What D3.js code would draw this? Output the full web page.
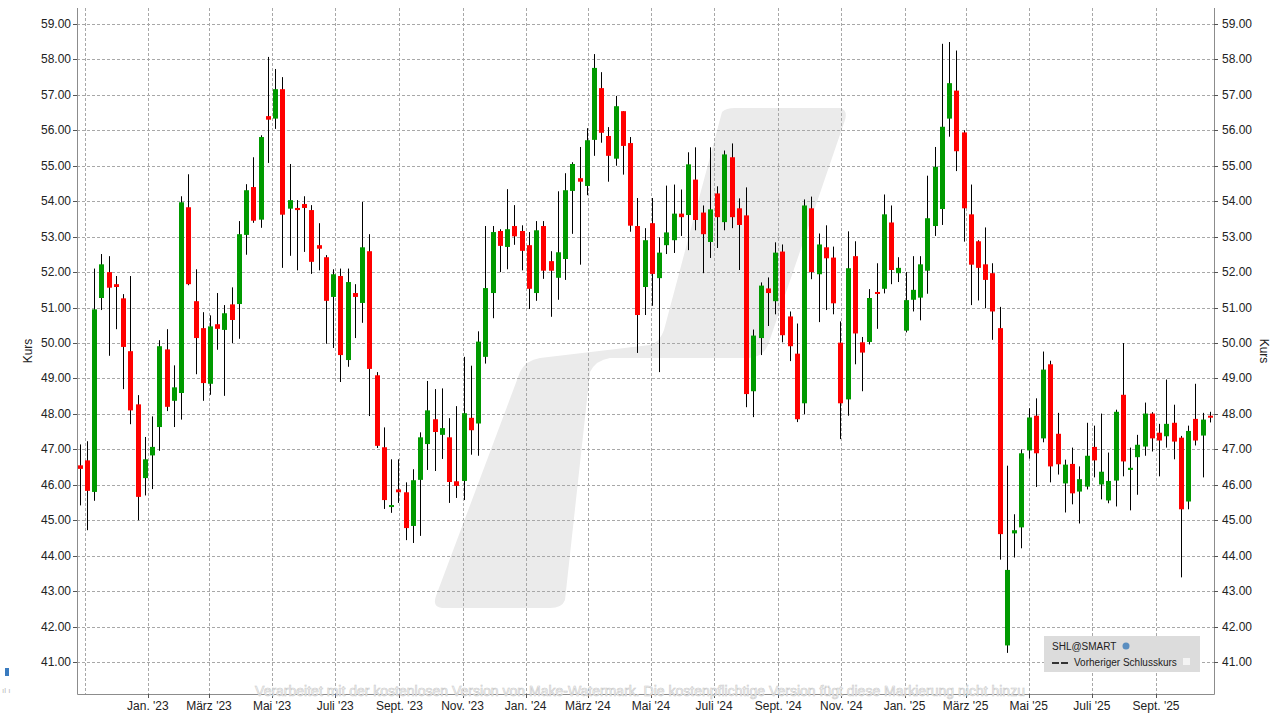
<!DOCTYPE html>
<html>
<head>
<meta charset="utf-8">
<script src="https://cdn.jsdelivr.net/npm/d3@7"></script>
<style>
  body { margin: 0; background: #fff; }
  text { font-family: "Liberation Sans", Arial, sans-serif; }
</style>
</head>
<body>
<svg id="chart" width="1281" height="719"></svg>
<script>
// weekly candles, first week
var firstWeek = "2022-10-27";

var opens = [46.55,46.69,45.80,51.27,52.00,51.66,51.26,49.77,48.27,46.19,46.83,47.63,49.82,48.37,48.59,53.83,51.18,50.42,48.85,50.53,
  50.37,51.09,51.10,53.05,54.40,53.48,56.40,56.33,57.16,53.79,53.81,53.92,53.75,52.76,52.42,51.30,51.89,49.52,51.41,51.13,
  52.59,49.09,47.06,45.38,45.87,45.79,44.84,46.14,47.15,47.85,47.41,47.34,46.10,46.11,47.89,47.73,49.61,51.41,53.16,52.71,
  53.30,53.16,52.76,51.41,53.30,52.31,51.84,52.37,54.29,54.65,54.43,55.73,57.19,55.84,55.20,56.54,55.64,53.30,51.58,53.38,
  51.83,52.76,52.90,53.65,53.61,54.61,53.68,52.85,54.22,53.41,55.24,53.80,53.60,48.64,50.14,51.54,51.18,52.58,50.75,49.70,
  48.30,53.80,51.94,52.70,52.41,50.01,48.41,52.45,50.02,50.03,51.44,51.53,53.40,51.97,50.35,51.22,51.28,52.04,53.30,53.78,
  56.33,57.12,55.94,53.63,52.87,52.22,51.97,50.42,41.47,44.63,44.80,46.97,47.95,47.31,49.40,47.44,46.04,46.59,45.81,45.95,
  47.07,46.01,45.56,46.12,48.54,46.42,46.78,47.08,48.01,47.47,47.37,47.75,47.33,45.53,47.86,47.39,47.95];
var highs = [47.14,47.23,52.10,52.51,52.45,51.89,51.38,51.89,48.53,47.35,47.93,50.08,50.39,49.37,54.14,54.76,52.08,50.87,50.78,51.41,
  51.07,51.57,53.44,54.48,55.24,55.86,58.07,57.73,57.50,55.05,54.03,54.14,53.89,53.38,52.48,52.08,52.10,52.10,51.66,53.98,
  53.07,49.18,47.62,46.72,46.72,46.07,46.44,47.48,48.93,48.70,48.72,47.88,48.22,49.61,49.36,50.33,53.30,53.30,53.21,54.34,
  53.89,53.32,53.13,53.44,53.44,52.59,54.28,54.79,55.10,55.53,56.06,58.15,57.64,56.09,56.97,56.54,55.81,54.09,53.24,54.09,
  52.98,54.44,54.47,54.33,55.38,55.52,53.88,55.52,54.42,55.43,55.63,54.08,54.39,50.38,51.71,51.85,52.84,52.78,50.89,50.55,
  54.05,54.13,53.09,53.32,52.72,50.61,53.15,52.87,50.17,51.52,52.25,54.19,53.88,52.42,52.00,52.45,52.45,54.72,55.53,58.44,
  58.49,58.25,56.00,54.47,52.90,53.26,52.25,51.02,46.54,45.17,47.00,48.16,48.44,49.76,49.50,48.03,46.71,47.05,46.52,47.75,
  47.67,48.01,46.91,48.12,50.00,47.05,47.41,48.32,48.05,47.72,48.97,48.26,47.38,47.67,48.85,48.03,48.06];
var lows = [45.42,44.72,45.55,50.93,49.64,50.39,48.70,47.71,45.00,45.70,45.88,46.96,48.08,47.63,47.84,51.63,49.12,48.37,48.54,49.81,
  48.51,50.00,50.12,52.49,53.39,53.25,55.08,56.04,52.12,52.46,52.05,52.57,51.95,52.05,49.98,49.86,48.90,49.33,50.14,50.57,
  47.94,47.04,45.32,45.21,45.49,44.44,44.36,44.56,46.42,46.39,46.73,45.49,45.63,45.57,46.85,46.82,49.42,50.70,52.00,52.08,
  52.77,52.05,50.96,51.19,51.81,50.74,51.22,51.78,53.08,52.21,54.17,55.28,55.65,54.55,55.00,54.75,53.14,49.72,50.79,51.05,
  49.18,52.51,52.54,53.02,52.62,53.18,51.97,52.40,52.68,53.18,53.24,52.06,48.19,47.91,49.66,50.48,50.81,50.02,49.49,47.77,
  47.99,51.80,50.59,50.93,50.81,47.29,47.95,49.40,48.64,49.96,50.40,51.40,51.66,51.72,50.30,50.89,50.64,51.39,53.02,53.33,
  55.82,54.85,52.86,51.07,51.20,50.98,50.09,43.89,41.26,43.95,44.21,46.74,45.94,47.20,46.07,46.29,45.22,45.45,44.91,45.87,
  46.21,45.59,45.48,45.39,46.24,45.28,45.72,46.82,46.94,46.24,47.05,46.72,43.39,45.31,47.11,46.21,47.76];
var closes = [46.45,45.83,50.95,52.22,51.56,51.58,49.89,48.10,45.66,46.72,47.07,49.91,48.20,48.75,53.97,51.66,50.14,48.87,50.47,50.40,
  50.84,50.65,53.07,54.31,53.45,55.81,56.30,57.16,53.62,54.03,53.75,53.81,52.29,52.66,51.19,51.94,49.66,51.72,51.30,52.70,
  49.27,47.10,45.57,45.43,45.79,44.78,46.13,47.34,48.10,47.49,47.60,46.08,45.97,48.02,47.54,50.04,51.55,53.13,52.74,53.21,
  53.01,52.60,51.53,53.18,52.04,52.04,52.56,54.31,55.05,54.55,55.72,57.76,55.93,55.28,56.68,55.56,53.31,50.79,52.90,51.95,
  52.55,53.12,53.65,53.55,55.04,53.47,53.07,53.77,53.55,55.32,53.55,53.33,48.56,50.21,51.62,51.41,52.55,50.22,49.91,47.85,
  53.88,52.00,52.78,52.39,51.12,48.30,52.11,50.27,49.73,51.27,51.39,53.63,52.06,52.12,51.21,51.50,52.22,53.52,54.97,56.10,
  57.33,55.41,53.80,52.21,52.12,51.78,50.89,44.61,43.60,44.72,46.89,47.90,46.89,49.25,46.52,46.58,46.57,45.76,46.16,46.82,
  46.69,46.37,46.11,48.06,46.66,46.48,47.13,48.01,47.31,47.25,47.72,47.22,45.31,47.52,47.25,47.84,47.90];

var yTicks = [41,42,43,44,45,46,47,48,49,50,51,52,53,54,55,56,57,58,59];
var monthNames = ["Jan.","Feb.","März","Apr.","Mai","Juni","Juli","Aug.","Sept.","Okt.","Nov.","Dez."];

var svg = d3.select("#chart");
var plotLeft = 77, plotRight = 1214, plotTop = 8, plotBottom = 694;

var start = d3.timeParse("%Y-%m-%d")(firstWeek);
var data = opens.map(function(o, i) {
  return { date: d3.timeWeek.offset(start, i), o: o, h: highs[i], l: lows[i], c: closes[i] };
});

var x = d3.scaleTime()
  .domain([new Date(2022, 9, 24, 12), new Date(2025, 9, 27)])
  .range([plotLeft, plotRight]);
var y = d3.scaleLinear().domain([40.1, 59.45]).range([plotBottom, plotTop]);

// watermark shape
svg.append("path")
  .attr("d", "M722,112 Q726,108 735,108 L840,108 Q848,110 845,120 L768,345 Q762,358 748,358 L610,358 Q596,360 590,372 L565,600 Q562,608 550,608 L442,608 Q432,607 436,596 L520,372 Q526,360 540,358 L650,345 Q660,342 664,330 Z")
  .attr("fill", "#ebebeb");

var grid = svg.append("g").attr("stroke", "#a8a8a8").attr("stroke-dasharray", "3,2").attr("stroke-width", 1);
yTicks.forEach(function(t) {
  grid.append("line").attr("x1", plotLeft).attr("x2", plotRight)
    .attr("y1", Math.round(y(t)) + 0.5).attr("y2", Math.round(y(t)) + 0.5);
});
var months = d3.timeMonth.range(new Date(2022, 10, 1), new Date(2025, 10, 1), 2);
months.forEach(function(m) {
  grid.append("line").attr("y1", plotTop).attr("y2", plotBottom)
    .attr("x1", Math.round(x(m)) + 0.5).attr("x2", Math.round(x(m)) + 0.5);
});

// frame
svg.append("path")
  .attr("d", "M" + (plotLeft + 0.5) + "," + plotTop + " V" + (plotBottom + 0.5) + " H" + (plotRight + 0.5) + " V" + plotTop)
  .attr("fill", "none").attr("stroke", "#8c8c8c");

// y labels both sides
yTicks.forEach(function(t) {
  var yy = y(t);
  svg.append("line").attr("x1", plotLeft - 4).attr("x2", plotLeft).attr("y1", Math.round(yy) + 0.5).attr("y2", Math.round(yy) + 0.5).attr("stroke", "#555");
  svg.append("line").attr("x1", plotRight).attr("x2", plotRight + 4).attr("y1", Math.round(yy) + 0.5).attr("y2", Math.round(yy) + 0.5).attr("stroke", "#555");
  svg.append("text").attr("x", plotLeft - 6).attr("y", yy + 4).attr("text-anchor", "end")
    .attr("font-size", 12).attr("fill", "#222").text(t.toFixed(2));
  svg.append("text").attr("x", plotRight + 8).attr("y", yy + 4)
    .attr("font-size", 12).attr("fill", "#222").text(t.toFixed(2));
});
svg.append("text").attr("transform", "translate(32,351) rotate(-90)").attr("text-anchor", "middle")
  .attr("font-size", 12).attr("fill", "#222").text("Kurs");
svg.append("text").attr("transform", "translate(1260,351) rotate(90)").attr("text-anchor", "middle")
  .attr("font-size", 12).attr("fill", "#222").text("Kurs");

// x labels
months.forEach(function(m, i) {
  if (i === 0) return;
  svg.append("line").attr("x1", Math.round(x(m)) + 0.5).attr("x2", Math.round(x(m)) + 0.5)
    .attr("y1", plotBottom).attr("y2", plotBottom + 4).attr("stroke", "#555");
  svg.append("text").attr("x", x(m)).attr("y", 710).attr("text-anchor", "middle")
    .attr("font-size", 12).attr("fill", "#222")
    .text(monthNames[m.getMonth()] + " '" + String(m.getFullYear()).slice(2));
});

// candles
var bw = 5;
var candles = svg.append("g").selectAll("g").data(data).enter().append("g");
candles.append("line")
  .attr("x1", function(d) { return Math.round(x(d.date)) + 0.5; })
  .attr("x2", function(d) { return Math.round(x(d.date)) + 0.5; })
  .attr("y1", function(d) { return y(d.h); })
  .attr("y2", function(d) { return y(d.l); })
  .attr("stroke", "#000").attr("stroke-width", 1);
candles.append("rect")
  .attr("x", function(d) { return Math.round(x(d.date)) - 2; })
  .attr("width", bw)
  .attr("y", function(d) { return y(Math.max(d.o, d.c)); })
  .attr("height", function(d) { return Math.max(2, Math.abs(y(d.o) - y(d.c))); })
  .attr("fill", function(d) { return d.c >= d.o ? "#009a00" : "#ff0000"; });

// legend
var lg = svg.append("g");
lg.append("rect").attr("x", 1044).attr("y", 636).attr("width", 156).attr("height", 36).attr("fill", "#dcdcdc");
lg.append("text").attr("x", 1052).attr("y", 650).attr("font-size", 10).attr("fill", "#222").text("SHL@SMART");
lg.append("circle").attr("cx", 1126).attr("cy", 646).attr("r", 3.5).attr("fill", "#5a8ec0");
lg.append("line").attr("x1", 1052).attr("x2", 1070).attr("y1", 663).attr("y2", 663)
  .attr("stroke", "#333").attr("stroke-width", 2).attr("stroke-dasharray", "7,2");
lg.append("text").attr("x", 1074).attr("y", 666).attr("font-size", 10).attr("fill", "#222").text("Vorheriger Schlusskurs");
lg.append("rect").attr("x", 1183).attr("y", 658).attr("width", 7).attr("height", 7).attr("fill", "#f4f4f4");

// tiny icon
svg.append("rect").attr("x", 5).attr("y", 668).attr("width", 4).attr("height", 8).attr("fill", "#3a7bbf");
svg.append("text").attr("x", 2).attr("y", 693).attr("font-size", 8).attr("fill", "#bbb").text("ıl ı");

// footer watermark text
svg.append("text").attr("x", 640).attr("y", 696).attr("text-anchor", "middle")
  .attr("font-size", 14).attr("fill", "#fff").attr("stroke", "#c8c8c8").attr("stroke-width", 0.6)
  .text("Verarbeitet mit der kostenlosen Version von Make-Watermark. Die kostenpflichtige Version fügt diese Markierung nicht hinzu");
</script>
</body>
</html>
